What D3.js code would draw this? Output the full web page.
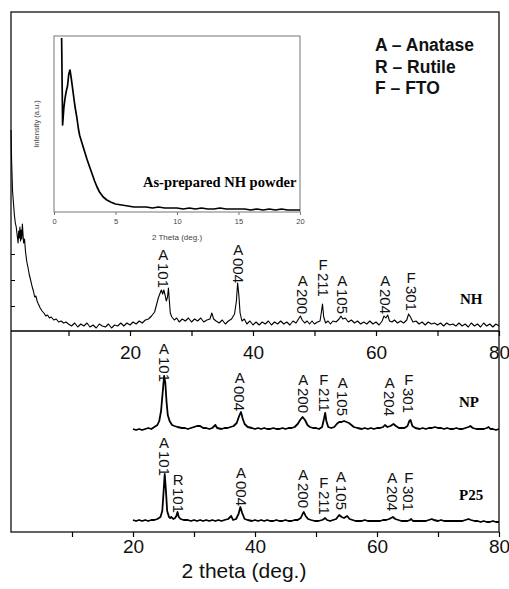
<!doctype html>
<html>
<head>
<meta charset="utf-8">
<script src="https://cdnjs.cloudflare.com/ajax/libs/d3/7.8.5/d3.min.js"></script>
<style>
  body { margin: 0; background: #fff; }
  svg { display: block; }
  .sans { font-family: "Liberation Sans", Arial, sans-serif; }
  .serif { font-family: "Liberation Serif", "Times New Roman", serif; font-weight: bold; }
</style>
</head>
<body>
<svg id="chart" width="509" height="589"></svg>
<script>
// ---- data (2 theta in degrees, intensity in arbitrary units) ----
var nhScan = [[0.65,201],[0.75,170],[0.9,140],[1.05,128],[1.2,116],[1.35,108],[1.5,104],[1.65,96],[1.8,88],[1.9,100],[2.0,93],[2.1,104],[2.2,90],[2.3,101],[2.4,92],[2.5,107],[2.6,97],[2.7,88],[2.85,92],[3.0,80],[3.2,70],[3.4,64],[3.6,57],[3.8,52],[4.1,44],[4.3,40],[4.5,34],[4.7,35],[4.9,30],[5.1,27],[5.4,23],[5.7,20],[6.0,18],[6.3,15],[6.6,16],[6.9,13],[7.2,14],[7.6,11],[8.0,12],[8.4,9],[8.8,10],[9.2,8],[9.6,9],[10.0,7],
  [10.5,5],[11,8],[11.5,4],[12,7],[12.5,5],[13,8],[13.5,4],[14,6],[14.5,3],[15,7],[15.5,5],[16,4],[16.5,7],[17,3],[17.5,6],[18,5],[18.5,8],[19,5],[19.5,8],[20,6],[20.5,9],[21,7],[21.5,10],[22,8],[22.5,11],[23,12],[23.5,15],[24,19],[24.3,26],[24.6,33],[24.9,38],[25.1,41],[25.3,37],[25.5,41],[25.7,36],[25.9,30],[26.1,34],[26.25,43],[26.4,30],[26.55,18],[26.8,14],[27.2,11],[27.6,13],[28,9],[28.5,12],[29,10],[29.5,13],[30,9],[30.5,12],[31,10],[31.5,13],[32,9],[32.5,11],[33,12],[33.3,18],[33.6,12],[34,10],[34.5,8],[35,11],[35.5,7],[36,10],[36.5,12],[37,17],[37.3,30],[37.5,48],[37.7,36],[37.9,18],[38.2,10],[38.6,12],[39,7],[39.5,10],[40,6],
  [40.5,9],[41,6],[41.5,9],[42,7],[42.5,10],[43,6],[43.5,9],[44,7],[44.5,10],[45,7],[45.5,9],[46,6],[46.5,10],[47,8],[47.4,12],[47.7,15],[48,11],[48.4,8],[48.8,10],[49.2,7],[49.6,10],[50,7],[50.5,9],[50.9,10],[51.1,18],[51.3,27],[51.5,14],[51.8,8],[52.2,10],[52.6,7],[53,10],[53.5,9],[54,12],[54.3,15],[54.6,12],[55,13],[55.5,9],[56,11],[56.5,8],[57,10],[57.5,7],[58,9],[58.5,7],[59,10],[59.5,7],[60,9],[60.5,6],[61,10],[61.3,15],[61.6,13],[61.9,16],[62.2,10],[62.6,9],[63,11],[63.5,8],[64,10],[64.5,8],[65,11],[65.3,17],[65.6,14],[66,9],[66.5,10],[67,7],[67.5,9],[68,6],[68.5,9],[69,7],[69.5,8],[70,6],[70.5,8],[71,5],[71.5,8],[72,6],[72.5,7],[73,5],[73.5,8],[74,5],[74.5,7],[75,4],[75.5,8],[76,5],[76.5,7],[77,4],[77.5,8],[78,5],[78.5,7],[79,4],[79.5,7],[80,5]];

var npScan = [[20,6],[20.5,5],[21,6],[21.5,5],[22,6],[22.5,7],[23,6],[23.5,8],[24,10],[24.3,14],[24.6,24],[24.9,45],[25.1,59],[25.3,52],[25.5,33],[25.7,20],[26,14],[26.4,10],[26.8,9],[27.3,8],[28,7],[28.5,7],[29,6],[29.5,7],[30,8],[30.5,9],[31,9],[31.5,7],[32,7],[32.5,6],[33,7],[33.5,10],[33.8,7],[34.5,6],[35,7],[35.5,7],[36,8],[36.5,9],[37,12],[37.4,19],[37.7,23],[38,16],[38.3,11],[38.8,8],[39.5,7],[40,6],[40.5,7],[41,6],[41.5,7],[42,6],[42.5,6],[43,7],[43.5,6],[44,6],[44.5,7],[45,6],[45.5,7],[46,7],[46.5,8],[47,11],[47.4,15],[47.8,18],[48.2,15],[48.6,10],[49,8],[49.5,7],[50,7],[50.5,6],[51,8],[51.3,16],[51.5,22],[51.7,14],[52,8],[52.5,7],[53,8],[53.4,11],[53.8,13],[54.2,13],[54.6,14],[55,13],[55.4,12],[55.8,10],[56.2,8],[56.8,7],[57.5,6],[58,7],[58.5,6],[59,7],[59.5,6],[60,7],[60.5,7],[61,8],[61.3,10],[61.7,8],[62.2,9],[62.7,11],[63.1,9],[63.6,7],[64,7],[64.5,7],[65,9],[65.3,14],[65.5,15],[65.8,9],[66.3,7],[67,6],[67.5,7],[68,6],[68.5,7],[69,7],[69.5,8],[70,7],[70.5,7],[71,6],[71.5,7],[72,6],[72.5,6],[73,7],[73.5,6],[74,6],[74.5,7],[75,8],[75.3,9],[75.7,7],[76.3,6],[77,6],[77.5,6],[78,7],[78.3,8],[78.6,6],[79,6],[79.5,5],[80,6]];

var p25Scan = [[20,7],[20.5,6],[21,7],[21.5,6],[22,7],[22.5,6],[23,7],[23.5,7],[24,8],[24.5,10],[24.8,16],[25.0,34],[25.2,53],[25.4,36],[25.6,16],[25.9,10],[26.1,9],[26.3,10],[26.6,8],[26.9,9],[27.1,11],[27.3,15],[27.5,10],[27.8,8],[28.3,7],[29,7],[29.5,6],[30,7],[30.5,6],[31,7],[31.5,6],[32,7],[32.5,6],[33,7],[33.5,6],[34,7],[34.5,6],[35,7],[35.6,8],[36.1,11],[36.4,7],[36.9,8],[37.3,13],[37.6,20],[37.9,14],[38.3,8],[38.8,7],[39.5,6],[40,7],[40.5,6],[41,7],[41.5,6],[42,7],[42.5,6],[43,6],[43.5,7],[44,6],[44.5,6],[45,7],[45.5,6],[46,6],[46.5,7],[47,7],[47.5,9],[47.8,13],[48.0,15],[48.3,11],[48.7,8],[49.2,7],[49.8,6],[50.4,6],[51,7],[51.3,8],[51.5,9],[51.8,7],[52.3,6],[52.8,7],[53.3,8],[53.8,12],[54.2,10],[54.6,9],[55.1,11],[55.5,8],[56,7],[56.5,6],[57,6],[57.5,6],[58,7],[58.5,6],[59,6],[59.5,6],[60,6],[60.5,6],[61,7],[61.5,7],[62,8],[62.6,10],[63,8],[63.5,7],[64,6],[64.5,6],[65,6],[65.4,7],[65.6,8],[65.9,6],[66.5,6],[67,6],[67.5,6],[68,6],[68.5,7],[69,8],[69.3,7],[70,6],[70.5,7],[71,6],[71.5,6],[72,6],[72.5,6],[73,6],[73.5,6],[74,6],[74.5,7],[75,8],[75.4,7],[76,6],[76.5,6],[77,5],[77.5,6],[78,5],[78.5,5],[79,6],[79.5,5],[80,5]];

var powderScan = [[0.62,174],[0.66,130],[0.7,87],[0.8,104],[0.9,114],[1.0,121],[1.1,126],[1.2,138],[1.3,142],[1.4,134],[1.55,120],[1.7,106],[1.85,95],[2.0,82],[2.1,76],[2.3,68],[2.5,60],[2.7,52],[2.9,45],[3.1,38],[3.3,31],[3.5,25],[3.7,20],[4.0,15],[4.3,12],[4.6,10],[5.0,8],[5.5,7],[6.0,6],[6.5,5],[7,5],[7.5,5],[8,4],[8.5,5],[9,4],[9.5,4],[10,4],[10.5,3],[11,4],[11.5,3],[12,4],[12.5,3],[13,3],[13.5,4],[14,3],[14.5,3],[15,3],[15.5,3],[16,2],[16.5,3],[17,2],[17.5,3],[18,2],[18.5,3],[19,2],[19.5,2],[20,2]];

// peak labels: [phase letter, hkl, 2theta, label height]
var nhPeaks = [["A","101",25.4,76],["A","004",37.6,81],["A","200",48.1,50],["F","211",51.4,66],["A","105",54.5,50],["A","204",61.5,50],["F","301",65.7,53]];
var npPeaks = [["A","101",25.1,86],["A","004",37.5,57],["A","200",47.9,55],["F","211",51.3,55],["A","105",54.4,52],["A","204",62.1,52],["F","301",65.2,55]];
var p25Peaks = [["A","101",25.1,84],["R","101",27.4,47],["A","004",37.7,54],["A","200",47.9,52],["F","211",51.3,44],["A","105",54.1,50],["A","204",62.5,49],["F","301",65.2,49]];

var legendLines = ["A \u2013 Anatase", "R \u2013 Rutile", "F \u2013 FTO"];
var mainTicks = [10, 20, 30, 40, 50, 60, 70, 80];
var mainTickLabels = [20, 40, 60, 80];
var insetTicks = [0, 5, 10, 15, 20];
var npOffset = 97, p25Offset = 5;

// ---- layout ----
var svg = d3.select("#chart");
var plotL = 11, plotR = 499, plotT = 12, plotMid = 331, plotB = 532;

var xTop = d3.scaleLinear().domain([0.65, 80]).range([plotL, plotR]);
var yTop = d3.scaleLinear().domain([0, 319]).range([plotMid, plotT]);
var xBot = d3.scaleLinear().domain([0, 80]).range([plotL, plotR]);
var yBot = d3.scaleLinear().domain([0, 201]).range([plotB, plotMid]);

var xIn = d3.scaleLinear().domain([0, 20]).range([54, 300]);
var yIn = d3.scaleLinear().domain([0, 176]).range([212, 36]);

function drawScan(data, x, y, offset, width) {
  svg.append("path")
    .datum(data)
    .attr("fill", "none")
    .attr("stroke", "#000")
    .attr("stroke-width", width)
    .attr("stroke-linejoin", "round")
    .attr("d", d3.line().x(d => x(d[0])).y(d => y(d[1] + offset)));
}

function drawPeaks(peaks, x, y, offset) {
  var g = svg.append("g").selectAll("g").data(peaks).enter().append("g")
    .attr("transform", d => "translate(" + x(d[2]) + "," + y(d[3] + offset) + ")")
    .attr("class", "sans")
    .style("font-size", "15px")
    .attr("fill", "#111");
  g.append("text").attr("text-anchor", "middle").attr("dy", "0.36em").text(d => d[0]);
  g.append("text").attr("transform", "translate(0,8) rotate(90)")
    .attr("dy", "0.36em").text(d => d[1]);
}

function styleAxis(g, labelY) {
  g.select(".domain").remove();
  g.selectAll("line").attr("stroke", "#000").attr("stroke-width", 1.2);
  g.selectAll("text")
    .attr("class", "sans")
    .style("font-size", "19px")
    .attr("fill", "#111")
    .attr("y", labelY).attr("dy", 0);
}

// frames
svg.append("rect").attr("x", plotL).attr("y", plotT).attr("width", plotR - plotL).attr("height", plotB - plotT)
  .attr("fill", "none").attr("stroke", "#222").attr("stroke-width", 1.4);
svg.append("line").attr("x1", plotL).attr("x2", plotR).attr("y1", plotMid).attr("y2", plotMid)
  .attr("stroke", "#000").attr("stroke-width", 1.6);

// top panel axis
var topAxis = svg.append("g").attr("transform", "translate(0," + plotMid + ")")
  .call(d3.axisBottom(xTop).tickValues(mainTicks).tickSize(5)
    .tickFormat(d => mainTickLabels.indexOf(d) >= 0 ? d : ""));
styleAxis(topAxis, 28);

// small y ticks on the top panel
svg.append("g").attr("transform", "translate(" + plotL + ",0)")
  .call(d3.axisRight(yTop).tickValues([25, 51, 77]).tickSize(4).tickFormat(""))
  .call(g => g.select(".domain").remove())
  .selectAll("line").attr("stroke", "#000");

// bottom axis
var botAxis = svg.append("g").attr("transform", "translate(0," + plotB + ")")
  .call(d3.axisBottom(xBot).tickValues(mainTicks).tickSize(5)
    .tickFormat(d => mainTickLabels.indexOf(d) >= 0 ? d : ""));
styleAxis(botAxis, 21);

svg.append("text").attr("class", "sans")
  .attr("x", (plotL + plotR) / 2 - 11).attr("y", 578)
  .attr("text-anchor", "middle").style("font-size", "21px").attr("fill", "#111")
  .text("2 theta (deg.)");

// scans
drawScan(nhScan, xTop, yTop, 0, 1.1);
drawScan(npScan, xBot, yBot, npOffset, 1.8);
drawScan(p25Scan, xBot, yBot, p25Offset, 1.8);

drawPeaks(nhPeaks, xTop, yTop, 0);
drawPeaks(npPeaks, xBot, yBot, npOffset);
drawPeaks(p25Peaks, xBot, yBot, p25Offset);

// sample names
svg.append("text").attr("class", "serif").attr("x", 460).attr("y", 304).style("font-size", "15px").text("NH");
svg.append("text").attr("class", "serif").attr("x", 459).attr("y", 407).style("font-size", "15px").text("NP");
svg.append("text").attr("class", "serif").attr("x", 459).attr("y", 500).style("font-size", "15px").text("P25");

// legend
svg.append("g").selectAll("text").data(legendLines).enter().append("text")
  .attr("class", "sans")
  .attr("x", 375).attr("y", (d, i) => 51 + i * 21.5)
  .style("font-size", "17.5px").style("font-weight", "bold").attr("fill", "#111")
  .text(d => d);

// inset
svg.append("rect").attr("x", 54).attr("y", 36).attr("width", 246).attr("height", 176)
  .attr("fill", "#fff").attr("stroke", "#777").attr("stroke-width", 1);
var inAxis = svg.append("g").attr("transform", "translate(0,212)")
  .call(d3.axisBottom(xIn).tickValues(insetTicks).tickSize(3).tickPadding(4));
inAxis.select(".domain").remove();
inAxis.selectAll("line").attr("stroke", "#777");
inAxis.selectAll("text").attr("class", "sans").style("font-size", "7.5px").attr("fill", "#444");
svg.append("text").attr("class", "sans").attr("x", 177).attr("y", 240)
  .attr("text-anchor", "middle").style("font-size", "8px").attr("fill", "#444").text("2 Theta (deg.)");
svg.append("text").attr("class", "sans")
  .attr("transform", "translate(39,124) rotate(-90)")
  .attr("text-anchor", "middle").style("font-size", "7.5px").attr("fill", "#444").text("Intensity (a.u.)");
drawScan(powderScan, xIn, yIn, 0, 1.7);
svg.append("text").attr("class", "serif").attr("x", 143).attr("y", 187)
  .style("font-size", "14.5px").text("As-prepared NH powder");
</script>
</body>
</html>
